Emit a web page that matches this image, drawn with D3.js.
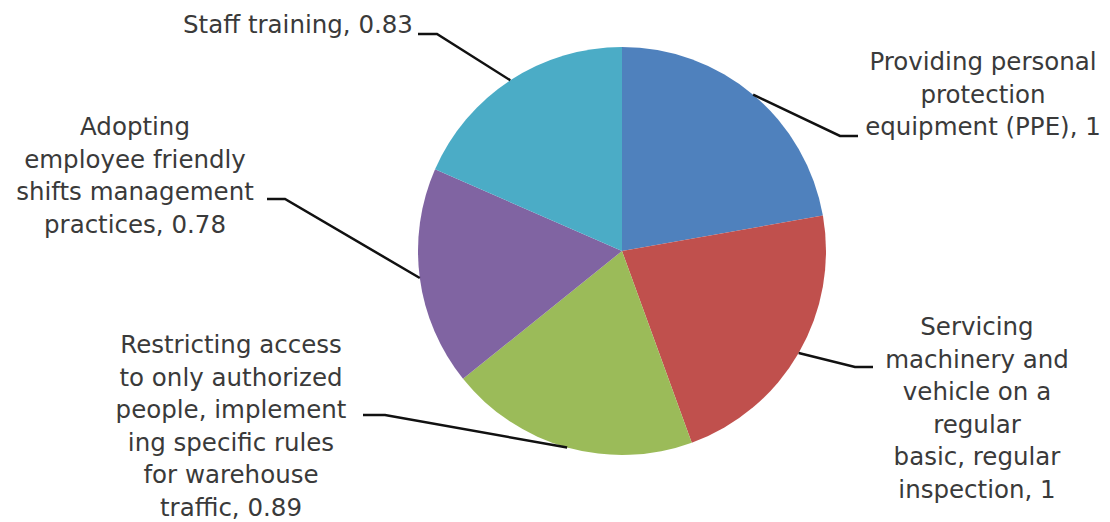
<!DOCTYPE html>
<html>
<head>
<meta charset="utf-8">
<script src="https://cdn.jsdelivr.net/npm/d3@7"></script>
<style>
  body { margin: 0; background: #fff; }
  text { font-family: "Century Gothic", "DejaVu Sans", sans-serif; }
</style>
</head>
<body>
<div id="chart"></div>
<script>
// *** DATA ***
let categories = [
  "Providing personal protection equipment (PPE)",
  "Servicing machinery and vehicle on a regular basic, regular inspection",
  "Restricting access to only authorized people, implementing specific rules for warehouse traffic",
  "Adopting employee friendly shifts management practices",
  "Staff training"
];
let values = [1, 1, 0.89, 0.78, 0.83];
let labelLines = [
  ["Providing personal", "protection", "equipment (PPE), 1"],
  ["Servicing", "machinery and", "vehicle on a", "regular", "basic, regular", "inspection, 1"],
  ["Restricting access", "to only authorized", "people, implement", "ing specific rules", "for warehouse", "traffic, 0.89"],
  ["Adopting", "employee friendly", "shifts management", "practices, 0.78"],
  ["Staff training, 0.83"]
];

// *** CHART SETTINGS ***
let width = 1110, height = 522
let cx = 622, cy = 251, radius = 204
let colors = ["#4F81BD", "#C0504D", "#9BBB59", "#8064A2", "#4BACC6"]
let textColor = "#3a3a3a"
let fontSize = 24.5, lineHeight = 32.5

// label block: centre x, first baseline, leader bend and end
let labelPos = [
  {x: 983, y: 70,  bend: [840, 136], end: [858, 136]},
  {x: 977, y: 335, bend: [855, 367], end: [873, 367]},
  {x: 231, y: 353, bend: [385, 415], end: [363, 415]},
  {x: 135, y: 135, bend: [285, 199], end: [267, 199]},
  {x: 298, y: 33,  bend: [437, 34],  end: [418, 34]}
]

let svg = d3.select("#chart").append("svg")
  .attr("width", width)
  .attr("height", height)

let pie = d3.pie().sort(null).value(d => d)
let arcs = pie(values)

let arc = d3.arc().innerRadius(0).outerRadius(radius)
let edgeArc = d3.arc().innerRadius(radius).outerRadius(radius)

let g = svg.append("g").attr("transform", `translate(${cx},${cy})`)

g.selectAll("path.slice")
  .data(arcs)
  .enter()
  .append("path")
    .attr("class", "slice")
    .attr("d", arc)
    .attr("fill", (d, i) => colors[i])

//Leader lines
svg.append("g").attr("class", "leaders")
  .selectAll("polyline")
  .data(arcs)
  .enter()
  .append("polyline")
    .attr("points", (d, i) => {
      let c = edgeArc.centroid(d)
      let p = labelPos[i]
      return [[cx + c[0], cy + c[1]], p.bend, p.end].map(q => q.join(",")).join(" ")
    })
    .attr("fill", "none")
    .attr("stroke", "#111")
    .attr("stroke-width", 2.5)

//Labels
let labels = svg.append("g").attr("class", "labels")
  .selectAll("text")
  .data(labelLines)
  .enter()
  .append("text")
    .attr("x", (d, i) => labelPos[i].x)
    .attr("y", (d, i) => labelPos[i].y)
    .attr("text-anchor", "middle")
    .style("font-size", fontSize + "px")
    .style("fill", textColor)

labels.selectAll("tspan")
  .data((d, i) => d.map(s => ({s: s, i: i})))
  .enter()
  .append("tspan")
    .attr("x", d => labelPos[d.i].x)
    .attr("dy", (d, j) => j == 0 ? 0 : lineHeight)
    .text(d => d.s)
</script>
</body>
</html>
